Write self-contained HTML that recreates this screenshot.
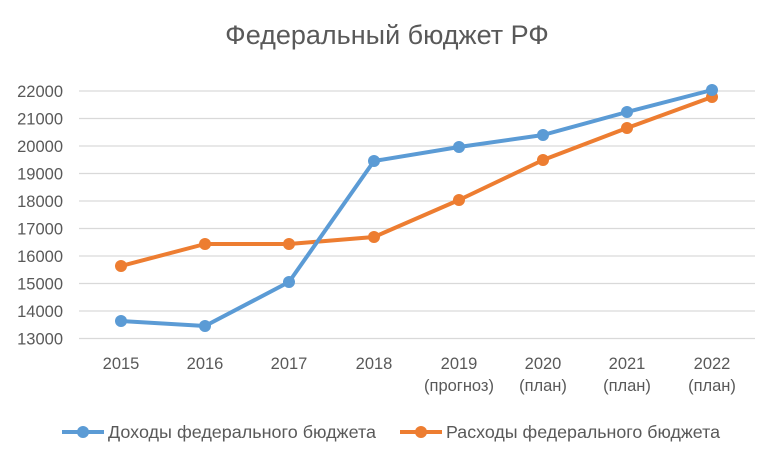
<!DOCTYPE html>
<html><head><meta charset="utf-8"><style>body{margin:0;background:#fff}</style></head><body>
<svg width="775" height="458" xmlns="http://www.w3.org/2000/svg" font-family="Liberation Sans, sans-serif" fill="#595959">
<text x="387" y="44" text-anchor="middle" font-size="27">Федеральный бюджет РФ</text>
<g stroke="#d9d9d9" stroke-width="1.3">
<line x1="79" x2="755" y1="91" y2="91"/><line x1="79" x2="755" y1="118.5" y2="118.5"/><line x1="79" x2="755" y1="146" y2="146"/><line x1="79" x2="755" y1="173.5" y2="173.5"/><line x1="79" x2="755" y1="201" y2="201"/><line x1="79" x2="755" y1="228.5" y2="228.5"/><line x1="79" x2="755" y1="256" y2="256"/><line x1="79" x2="755" y1="283.5" y2="283.5"/><line x1="79" x2="755" y1="311" y2="311"/><line x1="79" x2="755" y1="338.5" y2="338.5"/>
</g>
<g font-size="16.5" text-anchor="end">
<text x="63" y="97">22000</text><text x="63" y="124.5">21000</text><text x="63" y="152">20000</text><text x="63" y="179.5">19000</text><text x="63" y="207">18000</text><text x="63" y="234.5">17000</text><text x="63" y="262">16000</text><text x="63" y="289.5">15000</text><text x="63" y="317">14000</text><text x="63" y="344.5">13000</text>
</g>
<g font-size="16.5" text-anchor="middle">
<text x="121" y="369">2015</text><text x="205" y="369">2016</text><text x="289" y="369">2017</text><text x="374" y="369">2018</text><text x="459" y="369">2019</text><text x="543" y="369">2020</text><text x="627" y="369">2021</text><text x="712" y="369">2022</text>
<text x="459" y="391">(прогноз)</text><text x="543" y="391">(план)</text><text x="627" y="391">(план)</text><text x="712" y="391">(план)</text>
</g>
<polyline fill="none" stroke="#ed7d31" stroke-width="4" stroke-linejoin="round" points="121,266 205,244 289,244 374,237 459,200 543,160 627,128 712,97"/>
<g fill="#ed7d31"><circle cx="121" cy="266" r="6"/><circle cx="205" cy="244" r="6"/><circle cx="289" cy="244" r="6"/><circle cx="374" cy="237" r="6"/><circle cx="459" cy="200" r="6"/><circle cx="543" cy="160" r="6"/><circle cx="627" cy="128" r="6"/><circle cx="712" cy="97" r="6"/></g>
<polyline fill="none" stroke="#5b9bd5" stroke-width="4" stroke-linejoin="round" points="121,321 205,326 289,282 374,161 459,147 543,135 627,112 712,90"/>
<g fill="#5b9bd5"><circle cx="121" cy="321" r="6"/><circle cx="205" cy="326" r="6"/><circle cx="289" cy="282" r="6"/><circle cx="374" cy="161" r="6"/><circle cx="459" cy="147" r="6"/><circle cx="543" cy="135" r="6"/><circle cx="627" cy="112" r="6"/><circle cx="712" cy="90" r="6"/></g>
<line x1="62" x2="104" y1="432" y2="432" stroke="#5b9bd5" stroke-width="4"/><circle cx="83" cy="432" r="6" fill="#5b9bd5"/>
<text x="108" y="438" font-size="17.5" textLength="268" lengthAdjust="spacingAndGlyphs">Доходы федерального бюджета</text>
<line x1="400" x2="442" y1="432" y2="432" stroke="#ed7d31" stroke-width="4"/><circle cx="421" cy="432" r="6" fill="#ed7d31"/>
<text x="446" y="438" font-size="17.5" textLength="274" lengthAdjust="spacingAndGlyphs">Расходы федерального бюджета</text>
</svg>
</body></html>
